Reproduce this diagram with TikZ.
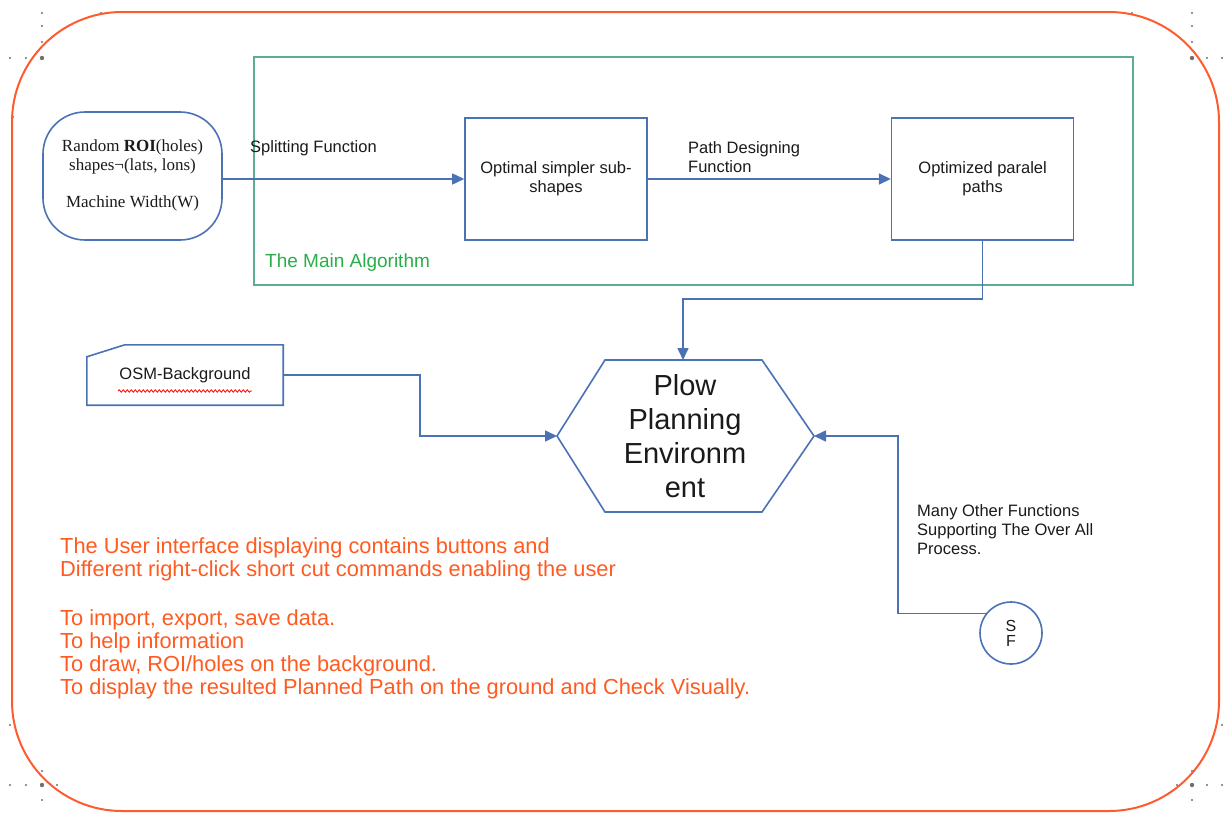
\documentclass[tikz,border=0pt]{standalone}
\usepackage{fontspec}
\setmainfont{Liberation Sans}
\newfontfamily\roifont{Liberation Serif}
\usepackage{tikz}
\usetikzlibrary{arrows.meta,positioning,calc,decorations.pathmorphing}
\definecolor{flowblue}{HTML}{4A72B5}
\definecolor{frameorange}{HTML}{FF5B2E}
\definecolor{algoframe}{HTML}{5BAE92}
\definecolor{algotext}{HTML}{2AAE4A}
\definecolor{uiorange}{HTML}{FF5A1F}
\definecolor{darktext}{HTML}{1A1A1A}
\definecolor{cropgray}{HTML}{707070}

\begin{document}
\begin{tikzpicture}[x=1pt, y=-1pt,
  flow/.style={-{Triangle[length=12pt,width=11pt]}, line width=1.6pt, draw=flowblue},
  procbox/.style={rectangle, draw=flowblue, line width=1.6pt,
                  minimum width=182pt, minimum height=122pt,
                  align=center, font=\fontsize{16.5}{19}\selectfont, text=darktext},
  roinode/.style={rectangle, rounded corners=42pt, draw=flowblue, line width=1.6pt,
                  minimum width=179pt, minimum height=128pt,
                  align=center, font=\roifont\fontsize{17}{18.5}\selectfont, text=darktext},
  lbl/.style={anchor=west, align=left, inner sep=0pt,
              font=\fontsize{16.5}{19}\selectfont, text=darktext},
  uitext/.style={anchor=west, align=left, inner sep=0pt,
                 font=\fontsize{21.8}{23}\selectfont, text=uiorange},
]
  \useasboundingbox (0,0) rectangle (1223,814);

  % page marks
  \foreach \x/\y in {42/13, 42/26, 42/42, 10/58, 26/58, 101/13, 13/117,
                     1132/13, 1192/13, 1192/26, 1192/42, 1207/58, 1222/58,
                     1192/771, 1177/785, 1207/785, 1222/785, 1192/800, 1222/725,
                     10/725, 42/771, 10/785, 26/785, 57/785, 42/800}
    \fill[cropgray] (\x,\y) circle (1.1pt);
  \foreach \x/\y in {42/58, 1192/58, 1192/785, 42/785}
    \fill[cropgray] (\x,\y) circle (2.2pt);

  % outer frame
  \draw[frameorange, line width=2pt, rounded corners=110pt] (12,12) rectangle (1219,811);

  % main algorithm frame
  \draw[algoframe, line width=2pt] (254,57) rectangle (1133,285);
  \node[anchor=west, inner sep=0pt, font=\fontsize{19}{22}\selectfont, text=algotext]
    (algolbl) at (265,263) {The Main Algorithm};

  % process row
  \node[roinode] (roi) at (132.5,176) {\raisebox{-3pt}{\begin{tabular}{@{}c@{}}Random \textbf{ROI}(holes)\\shapes¬(lats, lons)\\[18.5pt]Machine Width(W)\end{tabular}}};
  \node[procbox] (sub) at (556,179) {Optimal simpler sub-\\shapes};
  \node[procbox, right=243pt of sub] (par) {Optimized paralel\\paths};

  \draw[flow] (roi.east |- sub.west) -- (sub.west);
  \draw[flow] (sub.east) -- (par.west);
  \node[lbl] (splitlbl) at (250,148) {Splitting Function};
  \node[lbl] (pathlbl) at (688,157.5) {Path Designing\\Function};

  % environment hexagon
  \coordinate (env-n) at (683,360);
  \coordinate (env-w) at (557,436);
  \coordinate (env-e) at (814,436);
  \draw[flowblue, line width=1.6pt] (605,360) -- (762,360) -- (env-e) -- (762,512)
    -- (605,512) -- (env-w) -- cycle;
  \node[align=center, font=\fontsize{29}{34}\selectfont, text=darktext] (env) at (685,436)
    {Plow\\Planning\\Environm\\ent};

  \draw[flow] (par.south) -- ++(0,58) -| (env-n);

  % background input
  \node[minimum width=196pt, minimum height=60pt, font=\fontsize{16.5}{19}\selectfont,
        text=darktext] (osm) at (185,375) {OSM-Background};
  \draw[flowblue, line width=1.6pt] ($(osm.north west)+(0,12)$) -- ($(osm.north west)+(38,0)$)
    -- (osm.north east) -- (osm.south east) -- (osm.south west) -- cycle;
  \draw[red, line width=0.8pt, decorate, decoration={snake, amplitude=1.2pt, segment length=4pt}]
    ($(osm.center)+(-67,16)$) -- ++(134,0);
  \draw[flow] (osm.east) -| ($(osm.east)!0.5!(env-w)$) |- (env-w);

  % support functions
  \node[circle, draw=flowblue, line width=1.6pt, minimum size=62pt, inner sep=0pt,
        align=center, font=\fontsize{16}{15}\selectfont, text=darktext] (sf) at (1011,633) {S\\F};
  \draw[flow] (sf.142) -| (898,436) -- (env-e);
  \node[lbl] (otherlbl) at (917,530) {Many Other Functions\\Supporting The Over All\\Process.};

  % user interface notes
  \node[uitext] (uinotes) at (60,618) {The User interface displaying contains buttons and\\
    Different right-click short cut commands enabling the user\\[26pt]
    To import, export, save data.\\
    To help information\\
    To draw, ROI/holes on the background.\\
    To display the resulted Planned Path on the ground and Check Visually.};
\end{tikzpicture}
\end{document}
